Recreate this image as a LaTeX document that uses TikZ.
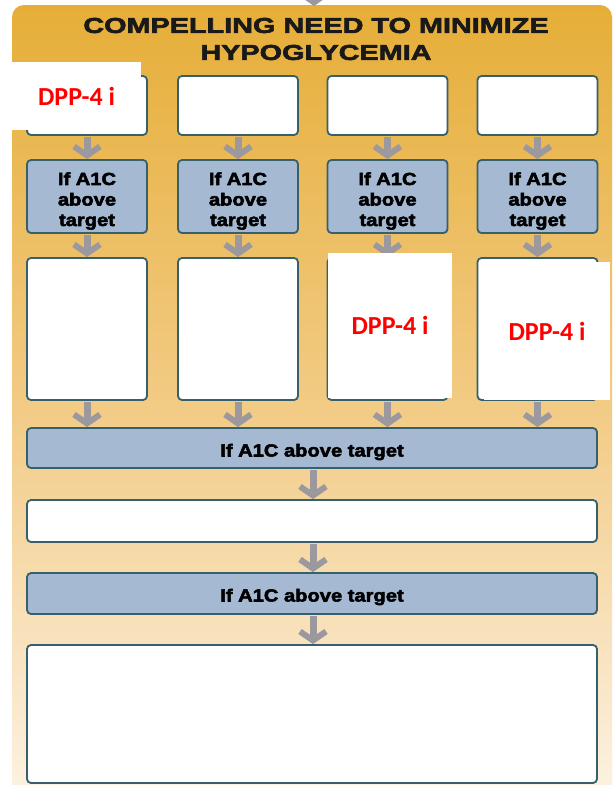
\documentclass[tikz,border=0pt]{standalone}
\usepackage{fontspec}
\usetikzlibrary{arrows.meta}
\newfontfamily\titlefont[FakeStretch=1.34,FakeBold=3]{Liberation Sans}
\newfontfamily\boxfont[FakeStretch=1.15,FakeBold=3]{Liberation Sans}
\newfontfamily\redfont{Carlito}
\definecolor{panelTop}{HTML}{E6AE38}
\definecolor{panelMid}{HTML}{F2CB85}
\definecolor{panelBot}{HTML}{FDF3E6}
\definecolor{boxBlue}{HTML}{A5B9D2}
\definecolor{boxEdge}{HTML}{35606C}
\definecolor{arrowGrey}{HTML}{9B989E}
\tikzset{
  whitebox/.style={draw=boxEdge, line width=1.8pt, fill=white, rounded corners=4pt, inner sep=0pt},
  bluebox/.style={draw=boxEdge, line width=1.8pt, fill=boxBlue, rounded corners=4pt, inner sep=0pt},
  boxtext/.style={font=\boxfont\bfseries\fontsize{17.5}{20.5}\selectfont, align=center, text=black, inner sep=0pt},
  patch/.style={fill=white, inner sep=0pt, font=\redfont\bfseries\fontsize{26}{30}\selectfont, text=red},
  flow/.style={draw=arrowGrey, line width=7pt, -{Straight Barb[length=9pt,width=26pt,line width=6pt]}, shorten <=1pt},
}
\begin{document}
\begin{tikzpicture}[x=1pt,y=-1pt]
\useasboundingbox (0,0) rectangle (616,785);
\fill[white] (0,0) rectangle (616,785);
% panel
\shade[top color=panelTop, bottom color=panelBot, middle color=panelMid, rounded corners=12pt]
  (12,5) rectangle (612,810);
% title
\node[font=\titlefont\bfseries\fontsize{21.5}{27}\selectfont, align=center, text=black!90] (title) at (316,39)
  {COMPELLING NEED TO MINIMIZE\\HYPOGLYCEMIA};
% incoming arrow
\coordinate (in) at (314,-25);
\coordinate (inEnd) at (314,6);
\draw[flow] (in) -- (inEnd);
% rows of four
\foreach \i/\x in {1/87,2/238,3/387.5,4/537.5}{
  \node[whitebox, minimum width=120pt, minimum height=59pt] (a\i) at (\x,105.5) {};
  \node[bluebox, minimum width=120pt, minimum height=73pt] (b\i) at (\x,196.5) {};
  \node[boxtext] (bt\i) at (\x,201) {If A1C\\above\\target};
  \node[whitebox, minimum width=120pt, minimum height=142pt] (c\i) at (\x,329) {};
}
% wide boxes
\node[bluebox, minimum width=570pt, minimum height=40pt] (d) at (312,448) {};
\node[boxtext] (dt) at (312,452) {If A1C above target};
\node[whitebox, minimum width=570pt, minimum height=42pt] (e) at (312,521) {};
\node[bluebox, minimum width=570pt, minimum height=41pt] (f) at (312,593.5) {};
\node[boxtext] (ft) at (312,597) {If A1C above target};
\node[whitebox, minimum width=570pt, minimum height=138pt] (g) at (312,714) {};
% arrows
\foreach \i in {1,2,3,4}{
  \draw[flow] (a\i.south) -- (b\i.north);
  \draw[flow] (b\i.south) -- (c\i.north);
  \draw[flow] (c\i.south) -- (c\i.south |- d.north);
}
\draw[flow] (d.south -| 313,0) -- (e.north -| 313,0);
\draw[flow] (e.south -| 313,0) -- (f.north -| 313,0);
\draw[flow] (f.south -| 313,0) -- (g.north -| 313,0);
% white patches with labels
\node[patch, minimum width=129pt, minimum height=68pt] (p1) at (76.5,96) {DPP-4 i};
\node[patch, minimum width=124pt, minimum height=145pt] (p3) at (390,325.5) {DPP-4 i};
\node[patch, minimum width=126pt, minimum height=138pt] (p4) at (547,331) {DPP-4 i};
\end{tikzpicture}
\end{document}
